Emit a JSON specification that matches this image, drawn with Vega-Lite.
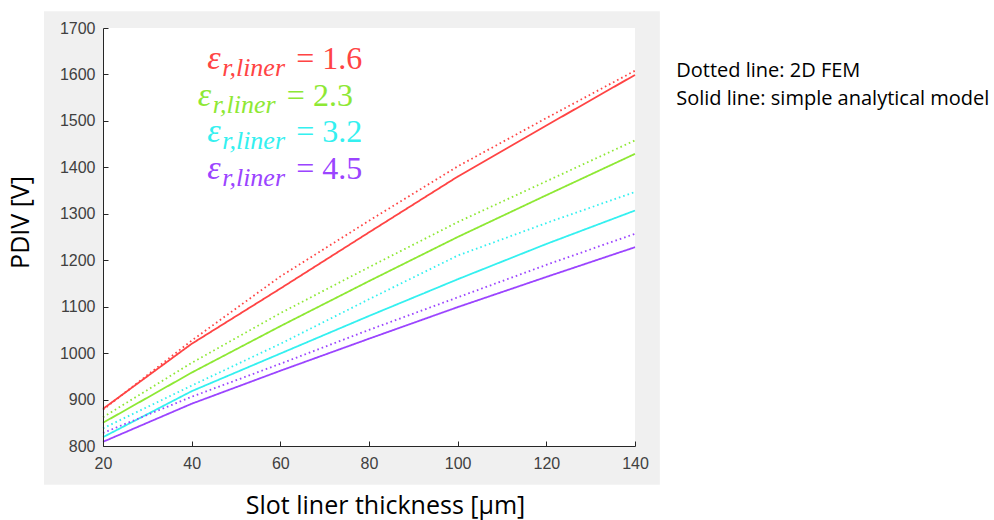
{
  "$schema": "https://vega.github.io/schema/vega-lite/v6.json",
  "width": 532,
  "height": 418,
  "autosize": {"type": "none"},
  "padding": {"left": 103, "top": 28, "right": 359, "bottom": 74},
  "background": "white",
  "config": {"view": {"stroke": null, "fill": null}},
  "datasets": {
    "pdiv": [
      {"thickness": 20, "pdiv": 880, "eps": "1.6", "model": "Solid line: simple analytical model"},
      {"thickness": 40, "pdiv": 1020, "eps": "1.6", "model": "Solid line: simple analytical model"},
      {"thickness": 60, "pdiv": 1139, "eps": "1.6", "model": "Solid line: simple analytical model"},
      {"thickness": 80, "pdiv": 1260, "eps": "1.6", "model": "Solid line: simple analytical model"},
      {"thickness": 100, "pdiv": 1380, "eps": "1.6", "model": "Solid line: simple analytical model"},
      {"thickness": 120, "pdiv": 1490, "eps": "1.6", "model": "Solid line: simple analytical model"},
      {"thickness": 140, "pdiv": 1599, "eps": "1.6", "model": "Solid line: simple analytical model"},
      {"thickness": 20, "pdiv": 878, "eps": "1.6", "model": "Dotted line: 2D FEM"},
      {"thickness": 40, "pdiv": 1027, "eps": "1.6", "model": "Dotted line: 2D FEM"},
      {"thickness": 60, "pdiv": 1165, "eps": "1.6", "model": "Dotted line: 2D FEM"},
      {"thickness": 80, "pdiv": 1285, "eps": "1.6", "model": "Dotted line: 2D FEM"},
      {"thickness": 100, "pdiv": 1402, "eps": "1.6", "model": "Dotted line: 2D FEM"},
      {"thickness": 120, "pdiv": 1506, "eps": "1.6", "model": "Dotted line: 2D FEM"},
      {"thickness": 140, "pdiv": 1608, "eps": "1.6", "model": "Dotted line: 2D FEM"},
      {"thickness": 20, "pdiv": 850, "eps": "2.3", "model": "Solid line: simple analytical model"},
      {"thickness": 40, "pdiv": 958, "eps": "2.3", "model": "Solid line: simple analytical model"},
      {"thickness": 60, "pdiv": 1058, "eps": "2.3", "model": "Solid line: simple analytical model"},
      {"thickness": 80, "pdiv": 1155, "eps": "2.3", "model": "Solid line: simple analytical model"},
      {"thickness": 100, "pdiv": 1250, "eps": "2.3", "model": "Solid line: simple analytical model"},
      {"thickness": 120, "pdiv": 1340, "eps": "2.3", "model": "Solid line: simple analytical model"},
      {"thickness": 140, "pdiv": 1429, "eps": "2.3", "model": "Solid line: simple analytical model"},
      {"thickness": 20, "pdiv": 862, "eps": "2.3", "model": "Dotted line: 2D FEM"},
      {"thickness": 40, "pdiv": 979, "eps": "2.3", "model": "Dotted line: 2D FEM"},
      {"thickness": 60, "pdiv": 1086, "eps": "2.3", "model": "Dotted line: 2D FEM"},
      {"thickness": 80, "pdiv": 1185, "eps": "2.3", "model": "Dotted line: 2D FEM"},
      {"thickness": 100, "pdiv": 1282, "eps": "2.3", "model": "Dotted line: 2D FEM"},
      {"thickness": 120, "pdiv": 1370, "eps": "2.3", "model": "Dotted line: 2D FEM"},
      {"thickness": 140, "pdiv": 1458, "eps": "2.3", "model": "Dotted line: 2D FEM"},
      {"thickness": 20, "pdiv": 819, "eps": "3.2", "model": "Solid line: simple analytical model"},
      {"thickness": 40, "pdiv": 918, "eps": "3.2", "model": "Solid line: simple analytical model"},
      {"thickness": 60, "pdiv": 999, "eps": "3.2", "model": "Solid line: simple analytical model"},
      {"thickness": 80, "pdiv": 1080, "eps": "3.2", "model": "Solid line: simple analytical model"},
      {"thickness": 100, "pdiv": 1159, "eps": "3.2", "model": "Solid line: simple analytical model"},
      {"thickness": 120, "pdiv": 1235, "eps": "3.2", "model": "Solid line: simple analytical model"},
      {"thickness": 140, "pdiv": 1307, "eps": "3.2", "model": "Solid line: simple analytical model"},
      {"thickness": 20, "pdiv": 838, "eps": "3.2", "model": "Dotted line: 2D FEM"},
      {"thickness": 40, "pdiv": 930, "eps": "3.2", "model": "Dotted line: 2D FEM"},
      {"thickness": 60, "pdiv": 1020, "eps": "3.2", "model": "Dotted line: 2D FEM"},
      {"thickness": 80, "pdiv": 1116, "eps": "3.2", "model": "Dotted line: 2D FEM"},
      {"thickness": 100, "pdiv": 1210, "eps": "3.2", "model": "Dotted line: 2D FEM"},
      {"thickness": 120, "pdiv": 1280, "eps": "3.2", "model": "Dotted line: 2D FEM"},
      {"thickness": 140, "pdiv": 1347, "eps": "3.2", "model": "Dotted line: 2D FEM"},
      {"thickness": 20, "pdiv": 809, "eps": "4.5", "model": "Solid line: simple analytical model"},
      {"thickness": 40, "pdiv": 891, "eps": "4.5", "model": "Solid line: simple analytical model"},
      {"thickness": 60, "pdiv": 962, "eps": "4.5", "model": "Solid line: simple analytical model"},
      {"thickness": 80, "pdiv": 1031, "eps": "4.5", "model": "Solid line: simple analytical model"},
      {"thickness": 100, "pdiv": 1099, "eps": "4.5", "model": "Solid line: simple analytical model"},
      {"thickness": 120, "pdiv": 1164, "eps": "4.5", "model": "Solid line: simple analytical model"},
      {"thickness": 140, "pdiv": 1228, "eps": "4.5", "model": "Solid line: simple analytical model"},
      {"thickness": 20, "pdiv": 828, "eps": "4.5", "model": "Dotted line: 2D FEM"},
      {"thickness": 40, "pdiv": 906, "eps": "4.5", "model": "Dotted line: 2D FEM"},
      {"thickness": 60, "pdiv": 977, "eps": "4.5", "model": "Dotted line: 2D FEM"},
      {"thickness": 80, "pdiv": 1050, "eps": "4.5", "model": "Dotted line: 2D FEM"},
      {"thickness": 100, "pdiv": 1120, "eps": "4.5", "model": "Dotted line: 2D FEM"},
      {"thickness": 120, "pdiv": 1190, "eps": "4.5", "model": "Dotted line: 2D FEM"},
      {"thickness": 140, "pdiv": 1257, "eps": "4.5", "model": "Dotted line: 2D FEM"}
    ],
    "labels": [
      {"eps": "1.6", "lx": 43.5, "ly": 1612, "text": "= 1.6"},
      {"eps": "2.3", "lx": 41.4, "ly": 1533, "text": "= 2.3"},
      {"eps": "3.2", "lx": 43.5, "ly": 1454, "text": "= 3.2"},
      {"eps": "4.5", "lx": 43.5, "ly": 1375, "text": "= 4.5"}
    ],
    "notes": [
      {"note": "Dotted line: 2D FEM", "nx": 149.3, "ny": 1608},
      {"note": "Solid line: simple analytical model", "ny": 1548, "nx": 149.3}
    ],
    "one": [{}]
  },
  "layer": [
    {
      "data": {"name": "one"},
      "mark": {"type": "rect", "fill": "#f0f0f0", "clip": false},
      "encoding": {
        "x": {"datum": 6.7, "type": "quantitative"},
        "x2": {"datum": 145.6},
        "y": {"datum": 716.7, "type": "quantitative"},
        "y2": {"datum": 1736.3}
      }
    },
    {
      "data": {"name": "one"},
      "mark": {"type": "rect", "fill": "white", "clip": false},
      "encoding": {
        "x": {"datum": 20, "type": "quantitative"},
        "x2": {"datum": 140},
        "y": {"datum": 800, "type": "quantitative"},
        "y2": {"datum": 1700}
      }
    },
    {
      "data": {"name": "pdiv"},
      "mark": {"type": "line", "strokeWidth": 1.8},
      "encoding": {
        "x": {
          "field": "thickness", "type": "quantitative",
          "scale": {"domain": [20, 140], "nice": false, "zero": false},
          "axis": {
            "values": [20, 40, 60, 80, 100, 120, 140], "format": "d", "zindex": 1, "labelFlush": false,
            "grid": false, "domain": true, "domainColor": "#262626", "domainWidth": 1,
            "tickColor": "#262626", "tickSize": -5, "labelPadding": 14,
            "labelFont": "Liberation Sans", "labelFontSize": 16, "labelColor": "#404040",
            "title": "Slot liner thickness [μm]", "titleFont": "Open Sans", "titleFontSize": 25,
            "titleFontWeight": "normal", "titleColor": "#000000",
            "titleX": 282, "titleY": 59, "titleBaseline": "middle", "titleAnchor": "middle"
          }
        },
        "y": {
          "field": "pdiv", "type": "quantitative",
          "scale": {"domain": [800, 1700], "nice": false, "zero": false},
          "axis": {
            "values": [800, 900, 1000, 1100, 1200, 1300, 1400, 1500, 1600, 1700], "format": "d", "zindex": 1, "labelFlush": false,
            "grid": false, "domain": true, "domainColor": "#262626", "domainWidth": 1,
            "tickColor": "#262626", "tickSize": -5, "labelPadding": 13,
            "labelFont": "Liberation Sans", "labelFontSize": 16, "labelColor": "#404040",
            "title": "PDIV [V]", "titleFont": "Open Sans", "titleFontSize": 25,
            "titleFontWeight": "normal", "titleColor": "#000000",
            "titleX": -83, "titleY": 194, "titleAngle": -90, "titleBaseline": "middle", "titleAnchor": "middle"
          }
        },
        "color": {
          "field": "eps", "type": "nominal",
          "scale": {"domain": ["1.6", "2.3", "3.2", "4.5"], "range": ["#ff4444", "#8ee834", "#34f0f0", "#9b44ff"]},
          "legend": null
        },
        "strokeDash": {
          "field": "model", "type": "nominal",
          "scale": {"domain": ["Dotted line: 2D FEM", "Solid line: simple analytical model"], "range": [[1.6, 3], [1, 0]]},
          "legend": null
        },
        "detail": {"field": "model"}
      }
    },
    {
      "data": {"name": "labels"},
      "mark": {"type": "text", "font": "Liberation Serif", "fontStyle": "italic", "fontSize": 34, "align": "left", "baseline": "alphabetic", "clip": false},
      "encoding": {
        "x": {"field": "lx", "type": "quantitative"},
        "y": {"field": "ly", "type": "quantitative"},
        "text": {"value": "ε"},
        "color": {"field": "eps", "type": "nominal", "scale": {"domain": ["1.6", "2.3", "3.2", "4.5"], "range": ["#ff0000", "#80ff00", "#a0ffff", "#a040ff"]}, "legend": null}
      }
    },
    {
      "data": {"name": "labels"},
      "mark": {"type": "text", "font": "Liberation Serif", "fontStyle": "italic", "fontSize": 26, "align": "left", "baseline": "alphabetic", "dx": 15, "dy": 7, "clip": false},
      "encoding": {
        "x": {"field": "lx", "type": "quantitative"},
        "y": {"field": "ly", "type": "quantitative"},
        "text": {"value": "r,liner"},
        "color": {"field": "eps", "type": "nominal", "legend": null}
      }
    },
    {
      "data": {"name": "labels"},
      "mark": {"type": "text", "font": "Liberation Serif", "fontSize": 32, "align": "left", "baseline": "alphabetic", "dx": 89, "clip": false},
      "encoding": {
        "x": {"field": "lx", "type": "quantitative"},
        "y": {"field": "ly", "type": "quantitative"},
        "text": {"field": "text"},
        "color": {"field": "eps", "type": "nominal", "legend": null}
      }
    },
    {
      "data": {"name": "notes"},
      "mark": {"type": "text", "font": "Open Sans", "fontSize": 20, "align": "left", "baseline": "middle", "color": "#000000", "clip": false},
      "encoding": {
        "x": {"field": "nx", "type": "quantitative"},
        "y": {"field": "ny", "type": "quantitative"},
        "text": {"field": "note"}
      }
    }
  ]
}
